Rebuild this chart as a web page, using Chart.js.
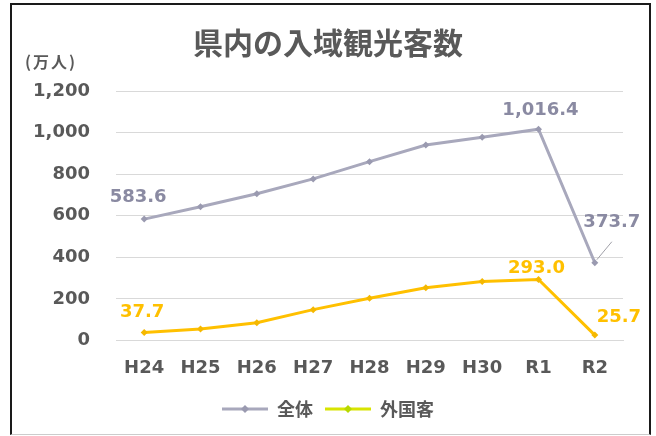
<!DOCTYPE html>
<html>
<head>
<meta charset="utf-8">
<script src="https://cdn.jsdelivr.net/npm/chart.js@4"></script>
<style>
  html, body { margin: 0; padding: 0; background: #fff; }
  #wrap { position: relative; width: 656px; height: 436px; }
  #frame { position: absolute; left: 10px; top: 3px; width: 641px; height: 432px;
           border: 2px solid #1a1a1a; border-bottom: 1px solid #ccc; box-sizing: border-box; }
  #unit { position: absolute; left: 25px; top: 49px; font: bold 16px "Noto Sans CJK JP", sans-serif;
          letter-spacing: 2px; color: #595959; }
  canvas { position: absolute; left: 0; top: 0; }
</style>
</head>
<body>
<div id="wrap">
  <div id="frame"></div>
  <canvas id="chart" width="656" height="436"></canvas>
  <div id="unit">(万人)</div>
</div>
<script>
// data
var years = ["H24", "H25", "H26", "H27", "H28", "H29", "H30", "R1", "R2"];
var total = [583.6, 643, 706, 777, 860, 940, 977, 1016.4, 373.7];     // 全体
var foreign = [37.7, 55, 85, 148, 203, 253, 283, 293.0, 25.7];        // 外国客
var yTicks = [0, 200, 400, 600, 800, 1000, 1200];

var grayLine = "#a8a8bc";
var grayText = "#8a8aa2";
var gold = "#ffc000";

// labels only on some points: [index, dx, dy]
var totalLabels = [[0, -6, -22], [7, 2, -19], [8, 17, -40]];
var foreignLabels = [[0, -2, -20], [7, -2, -11], [8, 24, -18]];

// small canvas used as legend marker (line with a point in the middle)
function legendMark(lineColor, dotColor) {
    var c = document.createElement("canvas");
    c.width = 46; c.height = 10;
    var g = c.getContext("2d");
    g.strokeStyle = lineColor;
    g.lineWidth = 3;
    g.beginPath(); g.moveTo(0, 5); g.lineTo(46, 5); g.stroke();
    g.fillStyle = dotColor;
    g.beginPath(); g.moveTo(23, 1); g.lineTo(27, 5); g.lineTo(23, 9); g.lineTo(19, 5); g.closePath(); g.fill();
    return c;
}

var pointLabels = {
    id: "pointLabels",
    afterDatasetsDraw: function (chart) {
        var ctx = chart.ctx;
        ctx.save();
        ctx.font = "bold 18px 'DejaVu Sans'";
        ctx.textAlign = "center";
        ctx.textBaseline = "middle";
        [[0, totalLabels, grayText], [1, foreignLabels, gold]].forEach(function (s) {
            var meta = chart.getDatasetMeta(s[0]);
            var vals = chart.data.datasets[s[0]].data;
            s[1].forEach(function (l) {
                var p = meta.data[l[0]];
                var txt = vals[l[0]].toLocaleString("en-US", {minimumFractionDigits: 1, maximumFractionDigits: 1});
                ctx.fillStyle = s[2];
                ctx.fillText(txt, p.x + l[1], p.y + l[2]);
            });
        });
        // leader line for the last total label
        var p8 = chart.getDatasetMeta(0).data[8];
        ctx.strokeStyle = "#a0a0a8";
        ctx.lineWidth = 1;
        ctx.beginPath();
        ctx.moveTo(p8.x + 17, p8.y - 21);
        ctx.lineTo(p8.x + 2, p8.y - 3);
        ctx.stroke();
        ctx.restore();
    }
};

new Chart(document.getElementById("chart"), {
    type: "line",
    data: {
        labels: years,
        datasets: [{
            label: "全体",
            data: total,
            borderColor: grayLine,
            backgroundColor: grayLine,
            borderWidth: 3,
            pointStyle: "rectRot",
            pointRadius: 3.5,
            pointBackgroundColor: "#9a9ab0",
            pointBorderWidth: 0,
            tension: 0
        }, {
            label: "外国客",
            data: foreign,
            borderColor: gold,
            backgroundColor: gold,
            borderWidth: 3,
            pointStyle: "rectRot",
            pointRadius: 3.5,
            pointBackgroundColor: "#f5b800",
            pointBorderWidth: 0,
            tension: 0
        }]
    },
    options: {
        responsive: false,
        animation: false,
        layout: { padding: { left: 0, right: 0, top: 0, bottom: 8 } },
        plugins: {
            title: {
                display: true,
                text: "県内の入域観光客数",
                color: "#595959",
                font: { family: "'Noto Sans CJK JP'", size: 30, weight: "bold" },
                padding: { top: 25, bottom: 30 }
            },
            legend: {
                position: "bottom",
                labels: {
                    usePointStyle: true,
                    pointStyleWidth: 46,
                    boxHeight: 10,
                    color: "#595959",
                    font: { family: "'Noto Sans CJK JP'", size: 18, weight: "bold" },
                    padding: 12,
                    generateLabels: function (chart) {
                        var marks = [legendMark(grayLine, "#9a9ab0"), legendMark("#d8e400", "#b8d800")];
                        return chart.data.datasets.map(function (d, i) {
                            return { text: d.label, pointStyle: marks[i], fontColor: "#595959",
                                     datasetIndex: i, hidden: false, lineWidth: 0 };
                        });
                    }
                }
            },
            tooltip: { enabled: false }
        },
        scales: {
            x: {
                offset: true,
                grid: { display: false, offset: false },
                border: { display: true, color: "#d9d9d9" },
                ticks: { color: "#595959", font: { family: "'DejaVu Sans'", size: 18, weight: "bold" }, padding: 9 }
            },
            y: {
                min: 0,
                max: 1200,
                afterFit: function (scale) { scale.width = 116; },
                afterBuildTicks: function (scale) {
                    scale.ticks = yTicks.map(function (v) { return { value: v }; });
                },
                grid: { color: "#d9d9d9", drawTicks: false },
                border: { display: false },
                ticks: {
                    color: "#595959",
                    padding: 26,
                    font: { family: "'DejaVu Sans'", size: 18, weight: "bold" },
                    callback: function (v) { return v.toLocaleString("en-US"); }
                }
            },
            // empty right axis, only keeps the plot away from the right edge
            yRight: {
                position: "right",
                min: 0,
                max: 1200,
                afterFit: function (scale) { scale.width = 33; },
                grid: { display: false },
                border: { display: false },
                ticks: { display: false }
            }
        }
    },
    plugins: [pointLabels]
});
</script>
</body>
</html>
